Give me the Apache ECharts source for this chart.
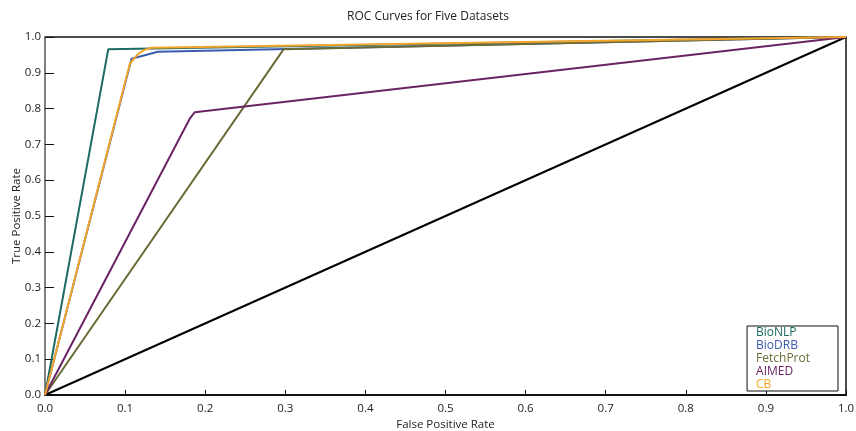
<!DOCTYPE html>
<html>
<head>
<meta charset="utf-8">
<script src="https://cdn.jsdelivr.net/npm/echarts@6/dist/echarts.min.js"></script>
<style>html,body{margin:0;padding:0;background:#fff}#c{width:856px;height:431px}</style>
</head>
<body>
<div id="c"></div>
<script>
var title = 'ROC Curves for Five Datasets';
var xLabel = 'False Positive Rate';
var yLabel = 'True Positive Rate';
var seriesNames = ['BioNLP', 'BioDRB', 'FetchProt', 'AIMED', 'CB'];
var seriesColors = ['#1d6b64', '#3b5cae', '#6b6b36', '#6a2466', '#f5a52a'];
var bioNLP = [[0, 0], [0.079, 0.966], [1, 1]];
var bioDRB = [[0, 0], [0.108, 0.939], [0.141, 0.959], [1, 1]];
var fetchProt = [[0, 0], [0.298, 0.966], [1, 1]];
var aimed = [[0, 0], [0.181, 0.773], [0.187, 0.79], [1, 1]];
var cb = [[0, 0], [0.106, 0.926], [0.116, 0.952], [0.124, 0.964], [0.133, 0.97], [1, 1]];
var diagonal = [[0, 0], [1, 1]];
var seriesData = [bioNLP, bioDRB, fetchProt, aimed, cb];

var font = '"Open Sans", "Noto Sans", sans-serif';
var series = seriesNames.map(function (n, i) {
  return {
    name: n, type: 'line', data: seriesData[i], symbol: 'none',
    lineStyle: { color: seriesColors[i], width: 2 }, itemStyle: { color: seriesColors[i] },
    z: 3 + i
  };
});
series.unshift({
  name: 'diag', type: 'line', data: diagonal, symbol: 'none',
  lineStyle: { color: '#000', width: 2 }, z: 2
});

var chart = echarts.init(document.getElementById('c'), null, { renderer: 'canvas' });
chart.setOption({
  animation: false,
  title: { text: title, left: 'center', top: 6, textStyle: { fontFamily: font, fontSize: 12, fontWeight: 'normal', color: '#222' } },
  grid: { left: 45, right: 10, top: 37, bottom: 36, show: true, borderColor: '#111', borderWidth: 1.5, containLabel: false, outerBoundsMode: 'none' },
  xAxis: {
    type: 'value', min: 0, max: 1, interval: 0.1,
    name: xLabel, nameLocation: 'middle', nameGap: 24, nameMoveOverlap: false,
    nameTextStyle: { fontFamily: font, fontSize: 11.5, color: '#222' },
    axisLine: { lineStyle: { color: '#111', width: 2 } },
    axisTick: { inside: true, length: 5, lineStyle: { color: '#111', width: 1 } },
    axisLabel: { formatter: function (v) { return v.toFixed(1); }, fontFamily: font, fontSize: 11.5, color: '#222', margin: 8 },
    splitLine: { show: false }
  },
  yAxis: {
    type: 'value', min: 0, max: 1, interval: 0.1,
    name: yLabel, nameLocation: 'middle', nameGap: 22, nameMoveOverlap: false,
    nameTextStyle: { fontFamily: font, fontSize: 11.5, color: '#222' },
    axisLine: { lineStyle: { color: '#808080', width: 2 } },
    axisTick: { inside: true, length: 9, lineStyle: { color: '#111', width: 1 } },
    axisLabel: { formatter: function (v) { return v.toFixed(1); }, fontFamily: font, fontSize: 11.5, color: '#222', margin: 4 },
    splitLine: { show: false }
  },
  legend: {
    orient: 'vertical', right: 18, bottom: 40,
    data: seriesNames.map(function (n, i) { return { name: n, textStyle: { color: seriesColors[i] } }; }),
    icon: 'none', itemWidth: 0, itemHeight: 10, itemGap: 0,
    borderColor: '#111', borderWidth: 1, padding: [0, 28, 0, 9],
    textStyle: { fontFamily: font, fontSize: 12, lineHeight: 13, padding: [0, 0, 0, -5] },
    backgroundColor: '#fff'
  },
  series: series
});
</script>
</body>
</html>
